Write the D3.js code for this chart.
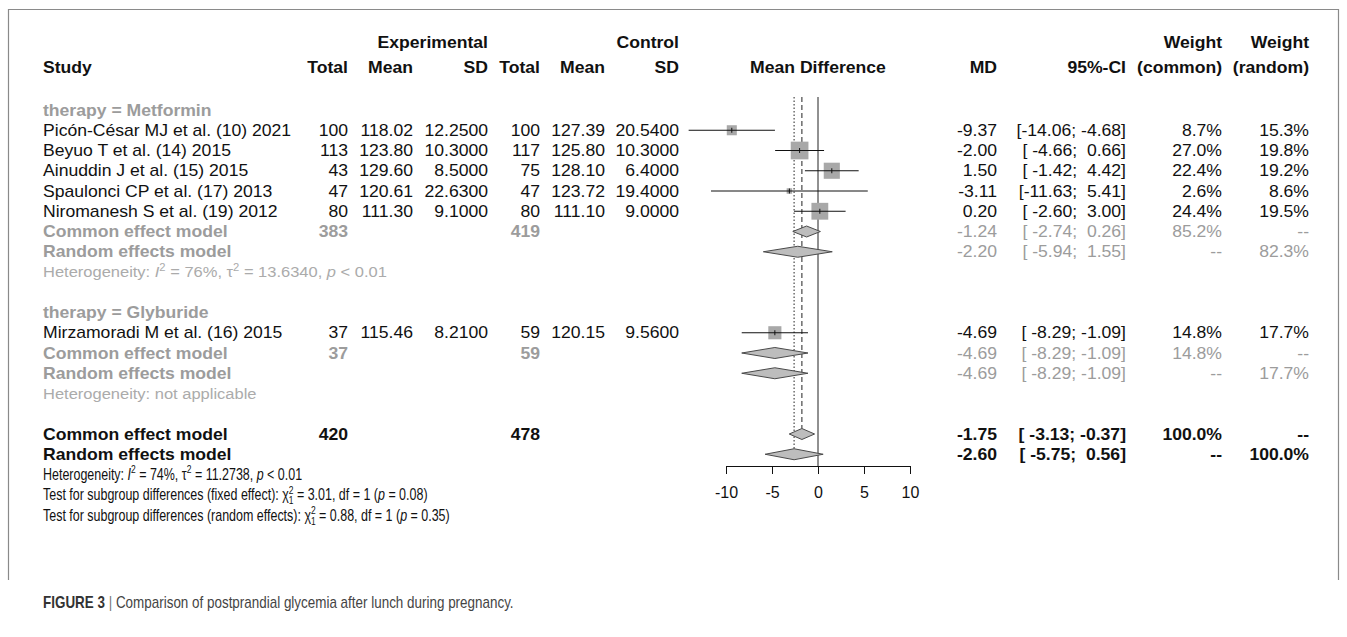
<!DOCTYPE html>
<html>
<head>
<meta charset="utf-8">
<script src="https://cdn.jsdelivr.net/npm/d3@7"></script>
<style>
  body { margin: 0; background: #fff; }
  text { font-family: "Liberation Sans", Arial, sans-serif; white-space: pre; }
</style>
</head>
<body>
<div id="chart"></div>
<script>
// study level data
var studyNames = ["Picón-César MJ et al. (10) 2021", "Beyuo T et al. (14) 2015", "Ainuddin J et al. (15) 2015",
                  "Spaulonci CP et al. (17) 2013", "Niromanesh S et al. (19) 2012", "Mirzamoradi M et al. (16) 2015"];
var studyGroup = ["Metformin", "Metformin", "Metformin", "Metformin", "Metformin", "Glyburide"];
var expTotal = [100, 113, 43, 47, 80, 37];
var expMean = [118.02, 123.80, 129.60, 120.61, 111.30, 115.46];
var expSD = [12.25, 10.30, 8.50, 22.63, 9.10, 8.21];
var ctlTotal = [100, 117, 75, 47, 80, 59];
var ctlMean = [127.39, 125.80, 128.10, 123.72, 111.10, 120.15];
var ctlSD = [20.54, 10.30, 6.40, 19.40, 9.00, 9.56];
var md = [-9.37, -2.00, 1.50, -3.11, 0.20, -4.69];
var ciLow = [-14.06, -4.66, -1.42, -11.63, -2.60, -8.29];
var ciHigh = [-4.68, 0.66, 4.42, 5.41, 3.00, -1.09];
var wCommon = [8.7, 27.0, 22.4, 2.6, 24.4, 14.8];
var wRandom = [15.3, 19.8, 19.2, 8.6, 19.5, 17.7];

// subgroup pooled results
var groups = ["Metformin", "Glyburide"];
var subExpTotal = [383, 37];
var subCtlTotal = [419, 59];
var subCommon = [[-1.24, -2.74, 0.26], [-4.69, -8.29, -1.09]];
var subRandom = [[-2.20, -5.94, 1.55], [-4.69, -8.29, -1.09]];
var subWCommon = [85.2, 14.8];
var subWRandom = [82.3, 17.7];
var subHet = [["76%", "13.6340", "< 0.01"], null];

// overall
var allTotals = [420, 478];
var allCommon = [-1.75, -3.13, -0.37];
var allRandom = [-2.60, -5.75, 0.56];
var allHet = ["74%", "11.2738", "< 0.01"];
var subgroupTests = [["fixed effect", "3.01", "0.08"], ["random effects", "0.88", "0.35"]];
var xTicks = [-10, -5, 0, 5, 10];

var W = 1347, H = 637;
var svg = d3.select('#chart').append('svg').attr('width', W).attr('height', H);

var x = d3.scaleLinear().domain([-10, 10]).range([726, 910]);
var y = d3.scaleLinear().domain([0, 20]).range([110, 515]);
var sq = d3.scaleSqrt().domain([0, 27]).range([0, 17.7]);

var BLACK = '#111', GRAY = '#9c9c9c', LIGHT = '#ababab';

function txt(xp, yp, s, o) {
  o = o || {};
  return svg.append('text')
    .attr('transform', 'translate(' + xp + ',' + yp + ') scale(' + (o.sx || 1.1) + ',1)')
    .attr('dy', '0.35em')
    .attr('xml:space', 'preserve')
    .attr('text-anchor', o.anchor || 'start')
    .attr('font-size', o.size || 16)
    .attr('font-weight', o.bold ? 'bold' : 'normal')
    .attr('fill', o.color || BLACK)
    .text(s);
}

// text with italic / super / sub parts
function rich(xp, yp, parts, o) {
  var t = svg.append('text')
    .attr('transform', 'translate(' + xp + ',' + (yp + o.size * 0.35) + ') scale(' + o.sx + ',1)')
    .attr('xml:space', 'preserve')
    .attr('font-size', o.size)
    .attr('fill', o.color);
  var shift = 0;
  parts.forEach(function (p) {
    var target = p.sup ? -o.size * 0.42 : (p.sub ? o.size * 0.25 : 0);
    var ts = t.append('tspan').text(p.t);
    if (target - shift !== 0) ts.attr('dy', target - shift);
    shift = target;
    if (p.it) ts.attr('font-style', 'italic');
    if (p.sup || p.sub) ts.attr('font-size', o.size * 0.68);
    if (p.dx) ts.attr('dx', p.dx);
  });
  return t;
}

function fmtCI(lo, hi) {
  return '[' + lo.toFixed(2).padStart(6, ' ') + ';' + hi.toFixed(2).padStart(6, ' ') + ']';
}
function pct(v) { return v == null ? '--' : v.toFixed(1) + '%'; }

// column anchors
var col = { study: 43, eT: 348, eM: 413, eS: 488, cT: 540, cM: 605, cS: 679, md: 997, ci: 1126, wc: 1222, wr: 1309 };

// frame
svg.append('path').attr('d', 'M8.5,580V9.5H1338.5V580').attr('fill', 'none').attr('stroke', '#8a8a8a').attr('stroke-width', 1.2);

// headers
var h1 = 42, h2 = 67;
txt(col.eS, h1, 'Experimental', { anchor: 'end', bold: true });
txt(col.cS, h1, 'Control', { anchor: 'end', bold: true });
txt(col.wc, h1, 'Weight', { anchor: 'end', bold: true });
txt(col.wr, h1, 'Weight', { anchor: 'end', bold: true });
txt(col.study, h2, 'Study', { bold: true });
[['Total', col.eT], ['Mean', col.eM], ['SD', col.eS], ['Total', col.cT], ['Mean', col.cM], ['SD', col.cS],
 ['MD', col.md], ['95%-CI', col.ci], ['(common)', col.wc], ['(random)', col.wr]].forEach(function (d) {
  txt(d[1], h2, d[0], { anchor: 'end', bold: true });
});
txt(x(0), h2, 'Mean Difference', { anchor: 'middle', bold: true });

// build row layout
var rows = [], r = 0;
groups.forEach(function (g, gi) {
  rows.push({ type: 'group', row: r++, gi: gi });
  studyNames.forEach(function (n, i) { if (studyGroup[i] === g) rows.push({ type: 'study', row: r++, i: i }); });
  rows.push({ type: 'common', row: r++, gi: gi });
  rows.push({ type: 'random', row: r++, gi: gi });
  rows.push({ type: 'het', row: r++, gi: gi });
  r++;
});
var overallRow = r;

// reference lines
var lineTop = y(0) - 13, axisY = 466, dh = 5.5;
svg.append('line').attr('x1', x(0)).attr('x2', x(0)).attr('y1', lineTop).attr('y2', axisY).attr('stroke', '#222');
svg.append('line').attr('x1', x(allCommon[0])).attr('x2', x(allCommon[0]))
  .attr('y1', lineTop).attr('y2', y(overallRow) - dh).attr('stroke', '#222').attr('stroke-dasharray', '5,3');
svg.append('line').attr('x1', x(allRandom[0])).attr('x2', x(allRandom[0]))
  .attr('y1', lineTop).attr('y2', y(overallRow + 1) - dh).attr('stroke', '#222').attr('stroke-dasharray', '1.5,2');

function diamond(est, yc) {
  svg.append('polygon')
    .attr('points', [[x(est[1]), yc], [x(est[0]), yc - dh], [x(est[2]), yc], [x(est[0]), yc + dh]].join(' '))
    .attr('fill', '#bdbdbd').attr('stroke', '#4a4a4a').attr('stroke-width', 1);
}

rows.forEach(function (d) {
  var yc = y(d.row);
  if (d.type === 'group') {
    txt(col.study, yc, 'therapy = ' + groups[d.gi], { bold: true, color: GRAY });
  } else if (d.type === 'study') {
    var i = d.i;
    txt(col.study, yc, studyNames[i]);
    txt(col.eT, yc, String(expTotal[i]), { anchor: 'end' });
    txt(col.eM, yc, expMean[i].toFixed(2), { anchor: 'end' });
    txt(col.eS, yc, expSD[i].toFixed(4), { anchor: 'end' });
    txt(col.cT, yc, String(ctlTotal[i]), { anchor: 'end' });
    txt(col.cM, yc, ctlMean[i].toFixed(2), { anchor: 'end' });
    txt(col.cS, yc, ctlSD[i].toFixed(4), { anchor: 'end' });
    txt(col.md, yc, md[i].toFixed(2), { anchor: 'end' });
    txt(col.ci, yc, fmtCI(ciLow[i], ciHigh[i]), { anchor: 'end' });
    txt(col.wc, yc, pct(wCommon[i]), { anchor: 'end' });
    txt(col.wr, yc, pct(wRandom[i]), { anchor: 'end' });
    var s = sq(wCommon[i]);
    svg.append('rect').attr('x', x(md[i]) - s / 2).attr('y', yc - s / 2).attr('width', s).attr('height', s).attr('fill', '#a8a8a8');
    svg.append('line').attr('x1', x(ciLow[i])).attr('x2', x(ciHigh[i])).attr('y1', yc).attr('y2', yc).attr('stroke', '#111');
    svg.append('line').attr('x1', x(md[i])).attr('x2', x(md[i])).attr('y1', yc - 2.5).attr('y2', yc + 2.5).attr('stroke', '#111');
  } else if (d.type === 'common' || d.type === 'random') {
    var c = d.type === 'common';
    var est = c ? subCommon[d.gi] : subRandom[d.gi];
    txt(col.study, yc, c ? 'Common effect model' : 'Random effects model', { bold: true, color: GRAY });
    if (c) {
      txt(col.eT, yc, String(subExpTotal[d.gi]), { anchor: 'end', bold: true, color: GRAY });
      txt(col.cT, yc, String(subCtlTotal[d.gi]), { anchor: 'end', bold: true, color: GRAY });
    }
    txt(col.md, yc, est[0].toFixed(2), { anchor: 'end', color: GRAY });
    txt(col.ci, yc, fmtCI(est[1], est[2]), { anchor: 'end', color: GRAY });
    txt(col.wc, yc, pct(c ? subWCommon[d.gi] : null), { anchor: 'end', color: GRAY });
    txt(col.wr, yc, pct(c ? null : subWRandom[d.gi]), { anchor: 'end', color: GRAY });
    diamond(est, yc);
  } else if (d.type === 'het') {
    var h = subHet[d.gi];
    if (h) {
      rich(col.study, yc, [{ t: 'Heterogeneity: ' }, { t: 'I', it: true }, { t: '2', sup: true }, { t: ' = ' + h[0] + ', τ' },
        { t: '2', sup: true }, { t: ' = ' + h[1] + ', ' }, { t: 'p', it: true }, { t: ' ' + h[2] }],
        { size: 15, sx: 1.1, color: LIGHT });
    } else {
      rich(col.study, yc, [{ t: 'Heterogeneity: not applicable' }], { size: 15, sx: 1.1, color: LIGHT });
    }
  }
});

// overall rows
[['Common effect model', allCommon, true], ['Random effects model', allRandom, false]].forEach(function (d, k) {
  var yc = y(overallRow + k);
  txt(col.study, yc, d[0], { bold: true });
  if (d[2]) {
    txt(col.eT, yc, String(allTotals[0]), { anchor: 'end', bold: true });
    txt(col.cT, yc, String(allTotals[1]), { anchor: 'end', bold: true });
  }
  txt(col.md, yc, d[1][0].toFixed(2), { anchor: 'end', bold: true });
  txt(col.ci, yc, fmtCI(d[1][1], d[1][2]), { anchor: 'end', bold: true });
  txt(col.wc, yc, d[2] ? '100.0%' : '--', { anchor: 'end', bold: true });
  txt(col.wr, yc, d[2] ? '--' : '100.0%', { anchor: 'end', bold: true });
  diamond(d[1], yc);
});

var bo = { size: 16, sx: 0.78, color: BLACK };
rich(col.study, y(overallRow + 2), [{ t: 'Heterogeneity: ' }, { t: 'I', it: true }, { t: '2', sup: true }, { t: ' = ' + allHet[0] + ', τ' },
  { t: '2', sup: true }, { t: ' = ' + allHet[1] + ', ' }, { t: 'p', it: true }, { t: ' ' + allHet[2] }], bo);
subgroupTests.forEach(function (d, k) {
  rich(col.study, y(overallRow + 3 + k), [{ t: 'Test for subgroup differences (' + d[0] + '): χ' }, { t: '2', sup: true },
    { t: '1', sub: true, dx: -6.1 }, { t: ' = ' + d[1] + ', df = 1 (' }, { t: 'p', it: true }, { t: ' = ' + d[2] + ')' }], bo);
});

// axis
var axis = d3.axisBottom(x).tickValues(xTicks).tickSize(8).tickSizeOuter(0).tickPadding(13)
  .tickFormat(function (d) { return String(d); });
var ag = svg.append('g').attr('transform', 'translate(0,' + axisY + ')').call(axis);
ag.selectAll('path,line').attr('stroke', '#111');
ag.selectAll('text').attr('font-size', 16).attr('fill', BLACK).attr('font-family', '"Liberation Sans", Arial, sans-serif');

// caption
var cap = svg.append('text')
  .attr('transform', 'translate(43,602) scale(0.84,1)')
  .attr('dy', '0.35em').attr('font-size', 16).attr('xml:space', 'preserve');
cap.append('tspan').text('FIGURE 3').attr('font-weight', 'bold').attr('fill', '#333');
cap.append('tspan').text(' | ').attr('fill', '#777');
cap.append('tspan').text('Comparison of postprandial glycemia after lunch during pregnancy.').attr('fill', '#444');
</script>
</body>
</html>
